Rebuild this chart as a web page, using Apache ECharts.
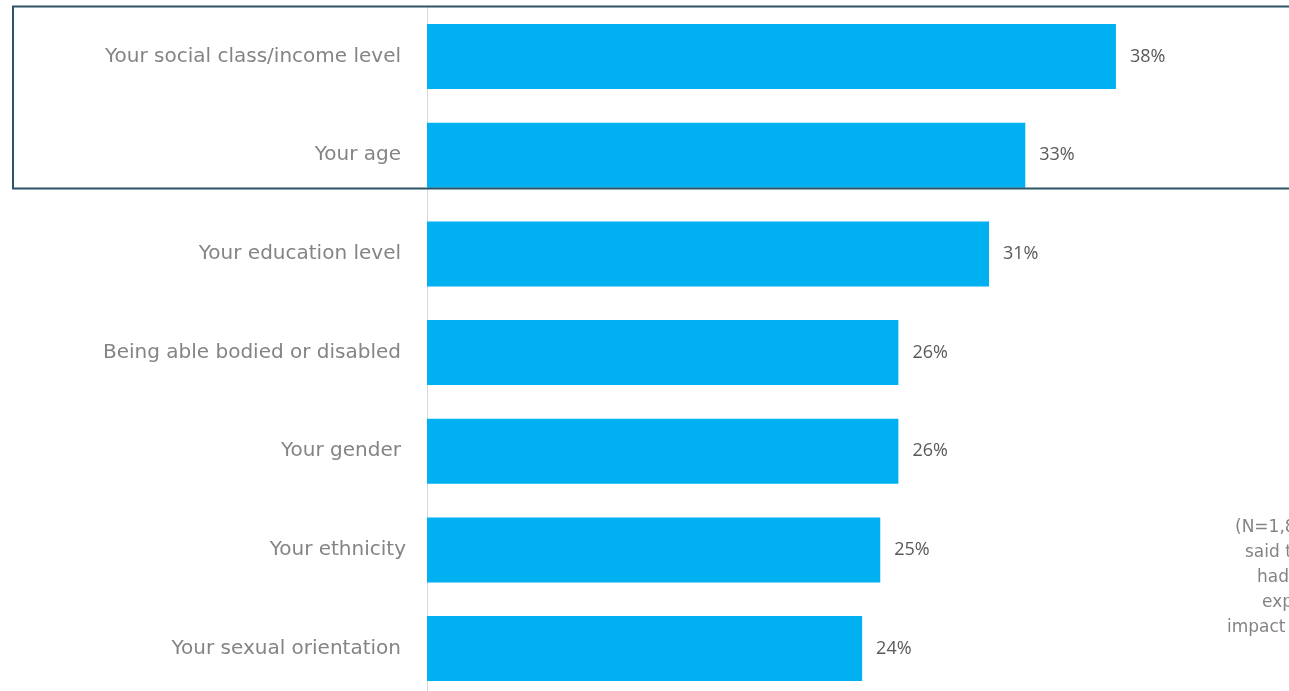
<!DOCTYPE html>
<html>
<head>
<meta charset="utf-8">
<script src="https://cdn.jsdelivr.net/npm/echarts@6/dist/echarts.min.js"></script>
<style>
html,body{margin:0;padding:0;background:#fff;overflow:hidden;width:1289px;height:691px;}
#chart{width:1400px;height:720px;}
</style>
</head>
<body>
<div id="chart"></div>
<script>
const categories = [
  "Your social class/income level",
  "Your age",
  "Your education level",
  "Being able bodied or disabled",
  "Your gender",
  "Your ethnicity",
  "Your sexual orientation"
];
const values = [38, 33, 31, 26, 26, 25, 24];
const noteLines = ["(N=1,800 who", "said they", "had", "experienced", "impact"];
const noteX = [1235, 1245, 1257, 1262, 1227];

const FONT = "DejaVu Sans";
const VFONT = "Open Sans";
const chart = echarts.init(document.getElementById('chart'), null, {renderer: 'canvas'});

const noteGraphics = noteLines.map((t, i) => ({
  type: 'text',
  left: noteX[i],
  top: 519 + i * 25,
  style: { text: t, font: '17px "' + FONT + '"', fill: '#848484' },
  silent: true
}));

chart.setOption({
  animation: false,
  grid: { left: 427, top: 7.2, width: 906.5, height: 690.7, containLabel: false },
  xAxis: {
    type: 'value', min: 0, max: 50, show: false
  },
  yAxis: {
    type: 'category',
    data: categories,
    inverse: true,
    axisLine: { show: true, lineStyle: { color: '#d9d9d9', width: 1 } },
    axisTick: { show: false },
    axisLabel: {
      margin: 21,
      fontFamily: FONT,
      fontSize: 20,
      color: '#848484',
      formatter: (v) => v === "Your ethnicity" ? '{b|' + v + '}' : '{a|' + v + '}',
      rich: {
        a: { fontFamily: FONT, fontSize: 20, color: '#848484', padding: [0, 5, 0, 0] },
        b: { fontFamily: FONT, fontSize: 20, color: '#848484' }
      }
    }
  },
  series: [{
    type: 'bar',
    data: values,
    barWidth: 65,
    itemStyle: { color: '#00b0f0' },
    label: {
      show: true,
      position: 'right',
      distance: 14,
      formatter: '{c}%',
      fontFamily: VFONT,
      fontSize: 18,
      color: '#595959'
    }
  }],
  graphic: [
    {
      type: 'rect',
      shape: { x: 13, y: 6.5, width: 1350, height: 182 },
      style: { fill: 'none', stroke: '#2d5466', lineWidth: 2 },
      silent: true, z: 100
    }
  ].concat(noteGraphics)
});
</script>
</body>
</html>
